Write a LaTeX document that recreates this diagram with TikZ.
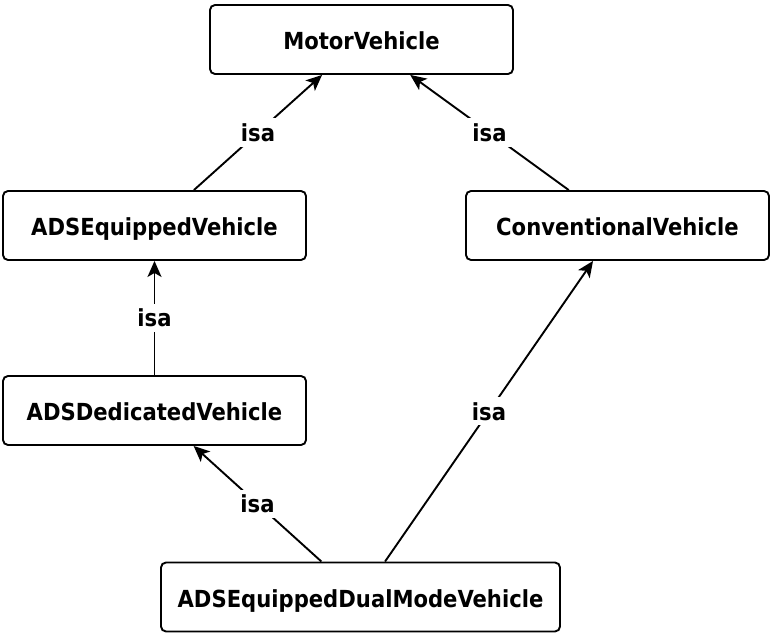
\documentclass[tikz,border=0pt]{standalone}
\usepackage{fontspec}
\setmainfont{DejaVu Sans Condensed}
\usetikzlibrary{arrows.meta, positioning}

\begin{document}
\begin{tikzpicture}[x=1pt, y=-1pt, line width=1.9pt,
    every node/.style={font=\bfseries\fontsize{23.5}{28}\selectfont},
    cls/.style={draw, rounded corners=5pt, minimum width=303pt, minimum height=69pt, inner sep=12pt,
        text height=21pt, text depth=1pt},
    isa/.style={-{Stealth[length=16pt, width=14pt, inset=4pt]}},
    lbl/.style={fill=white, inner sep=5pt}]
    \useasboundingbox (0,0) rectangle (774,639);
    \node[cls] (motor) at (361.5,39.5) {MotorVehicle};
    \node[cls] (adseq) at (154.5,225.5) {ADSEquippedVehicle};
    \node[cls] (conv) at (617.5,225.5) {ConventionalVehicle};
    \node[cls] (adsded) at (154.5,410.5) {ADSDedicatedVehicle};
    \node[cls, minimum width=399pt] (dual) at (360.5,597) {ADSEquippedDualModeVehicle};
    \draw[isa] (adseq) -- node[lbl] {isa} (motor);
    \draw[isa] (conv) -- node[lbl] {isa} (motor);
    \draw[isa] (adsded) -- node[lbl] {isa} (adseq);
    \draw[isa] (dual) -- node[lbl] {isa} (adsded);
    \draw[isa] (dual) -- node[lbl] {isa} (conv);
\end{tikzpicture}
\end{document}
